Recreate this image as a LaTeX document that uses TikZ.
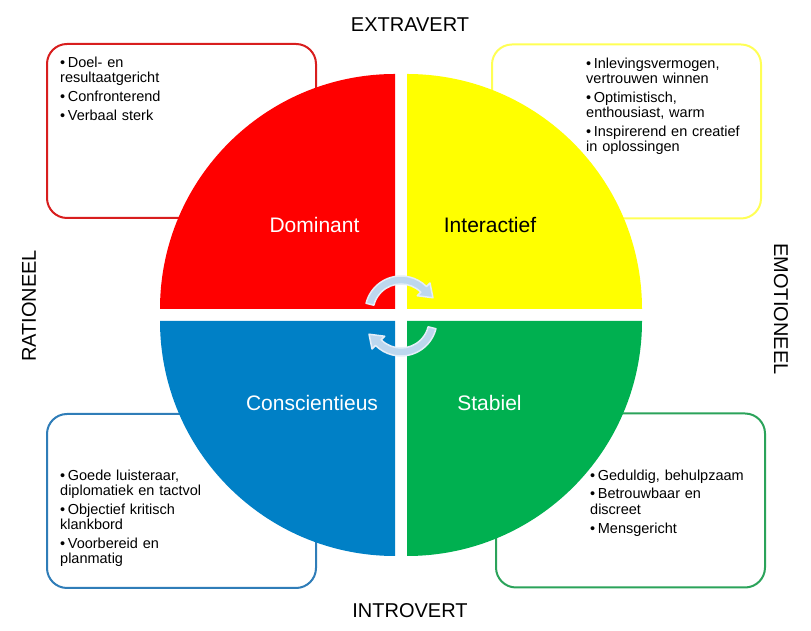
\documentclass[tikz,border=0pt]{standalone}
\usepackage{fontspec}
\setmainfont{Liberation Sans}
\definecolor{DiscRed}{HTML}{FF0000}
\definecolor{DiscYellow}{HTML}{FFFF00}
\definecolor{DiscBlue}{HTML}{0080C6}
\definecolor{DiscGreen}{HTML}{00B050}
\definecolor{LineRed}{HTML}{D81E1E}
\definecolor{LineYellow}{HTML}{FFFF55}
\definecolor{LineBlue}{HTML}{2F7DB8}
\definecolor{LineGreen}{HTML}{2BA35A}
\definecolor{ArrowFill}{HTML}{BDD7EE}
\definecolor{ArrowLine}{HTML}{E4EEF8}
\newcommand{\pnt}[1]{\par\setlength{\parskip}{3.6pt}\hangindent=3pt\hangafter=1\noindent\textbullet\hspace{2.6pt}#1}

\begin{document}
\begin{tikzpicture}[x=1pt, y=1pt,
   box/.style={draw, line width=2pt, fill=white, rounded corners=20pt,
      minimum width=269pt, minimum height=174pt, inner sep=0pt},
   listtext/.style={anchor=north west, inner sep=0pt, text width=200pt,
      font=\fontsize{14.5}{15.3}\selectfont},
   quadlabel/.style={anchor=base, inner sep=0pt, font=\fontsize{21}{25}\selectfont},
   axislabel/.style={inner sep=0pt, font=\fontsize{20}{24}\selectfont}]
   \useasboundingbox (0,0) rectangle (811,631);
   % Text boxes behind the disc
   \node[box, draw=LineRed] (dbox) at (181.5,500) {};
   \node[box, draw=LineYellow] (ibox) at (626.5,499.5) {};
   \node[box, draw=LineBlue] (cbox) at (181.5,130) {};
   \node[box, draw=LineGreen] (sbox) at (630.5,130.5) {};
   % Four quarters of the disc
   \foreach \cx/\cy/\s/\col in {395/322/90/DiscRed, 407/322/0/DiscYellow,
      395/310/180/DiscBlue, 407/310/270/DiscGreen}
      \fill[\col] (\cx,\cy) -- ++(\s:235) arc[start angle=\s, delta angle=90, radius=235] -- cycle;
   % Quarter names
   \node[quadlabel, text=white] (dom) at (314.5,398) {Dominant};
   \node[quadlabel] (inter) at (490,398) {Interactief};
   \node[quadlabel, text=white] (cons) at (312,220) {Conscientieus};
   \node[quadlabel, text=white] (stab) at (489.5,220) {Stabiel};
   % Circular arrows in the middle
   \foreach \cx/\cy/\a in {401/319/0, 401/311/180}
   {
      \begin{scope}[shift={(\cx,\cy)}]
         \filldraw[fill=ArrowFill, draw=ArrowLine, line width=1.5pt, line join=round]
            ({166+\a}:36) arc[start angle={166+\a}, end angle={45+\a}, radius=36]
            -- ({45+\a}:41) -- ({24+\a}:35) -- ({45+\a}:23) -- ({45+\a}:28)
            arc[start angle={45+\a}, end angle={166+\a}, radius=28] -- cycle;
      \end{scope}
   }
   % Axis labels
   \node[axislabel, anchor=base] (extra) at (410,599) {EXTRAVERT};
   \node[axislabel, anchor=base] (intro) at (410,13) {INTROVERT};
   \node[axislabel, rotate=90] (ratio) at (29,325) {RATIONEEL};
   \node[axislabel, rotate=-90] (emo) at (781,322) {EMOTIONEEL};
   % Lists of traits
   \node[listtext] (dlist) at (60,583)
      {\pnt{Doel- en\\resultaatgericht}\pnt{Confronterend}\pnt{Verbaal sterk}};
   \node[listtext] (ilist) at (586,582)
      {\pnt{Inlevingsvermogen,\\vertrouwen winnen}\pnt{Optimistisch,\\enthousiast, warm}\pnt{Inspirerend en creatief\\in oplossingen}};
   \node[listtext] (clist) at (60,170)
      {\pnt{Goede luisteraar,\\diplomatiek en tactvol}\pnt{Objectief kritisch\\klankbord}\pnt{Voorbereid en\\planmatig}};
   \node[listtext] (slist) at (590,170)
      {\pnt{Geduldig, behulpzaam}\pnt{Betrouwbaar en\\discreet}\pnt{Mensgericht}};
\end{tikzpicture}
\end{document}
